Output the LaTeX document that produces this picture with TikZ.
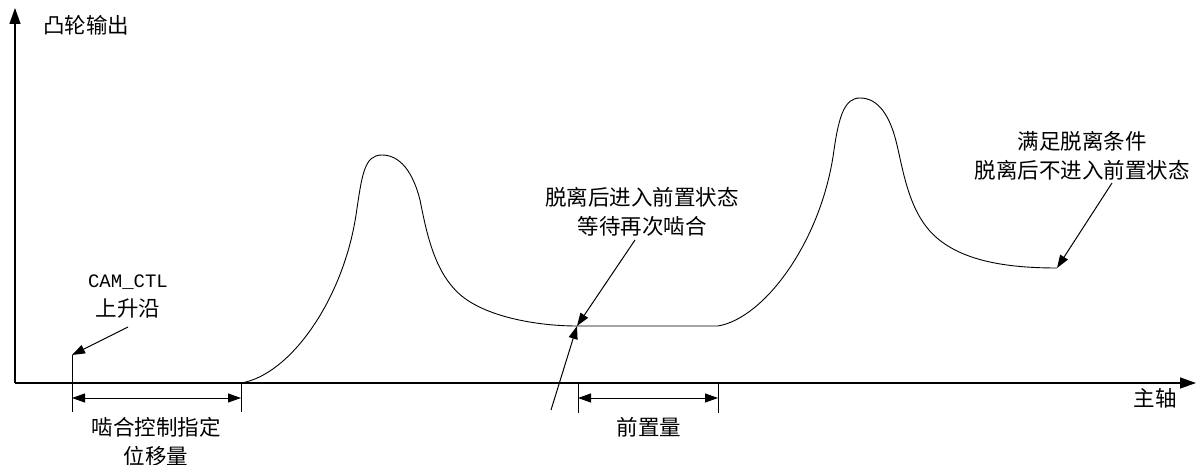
\documentclass[tikz,border=0pt]{standalone}
\usepackage{fontspec}
\setmainfont{Noto Sans CJK SC}
\newfontfamily\monof{Liberation Mono}
\usetikzlibrary{arrows.meta}
\begin{document}
\begin{tikzpicture}[x=1pt,y=-1pt,line width=1pt,
  lbl/.style={font=\fontsize{21.5}{29}\selectfont,align=center,inner sep=0pt},
  arr/.style={-{Triangle[length=13pt,width=9pt]}},
  dimarr/.style={{Triangle[length=13pt,width=9pt]}-{Triangle[length=13pt,width=9pt]}},
  ax/.style={line width=1.3pt,-{Triangle[length=16pt,width=11pt]}},
  tick/.style={line width=1pt},
  cam/.style={line width=0.9pt}]
\useasboundingbox (0,0) rectangle (1203,465);
% axes
\coordinate (O) at (15,383);
\coordinate (Ytop) at (15,8);
\coordinate (Xend) at (1196,383);
\draw[ax] (O) -- (Ytop);
\draw[ax] (O) -- (Xend);
\node[lbl] (ylab) at (86,25) {凸轮输出};
\node[lbl] (xlab) at (1155,398) {主轴};
% curve
\coordinate (c0) at (241,383);
\coordinate (c1) at (577,326);
\coordinate (c2) at (718,326);
\coordinate (c3) at (1057,268);
\draw[cam] (c0) .. controls (290,375) and (343,300) .. (356,215)
  .. controls (362,175) and (364,155) .. (382,155)
  .. controls (400,155) and (413,172) .. (420,200)
  .. controls (427,235) and (435,275) .. (463,297)
  .. controls (490,318) and (540,326) .. (c1)
  -- (c2)
  .. controls (765,318) and (822,240) .. (834,150)
  .. controls (839,115) and (845,98) .. (860,98)
  .. controls (878,98) and (890,115) .. (897,145)
  .. controls (904,175) and (910,215) .. (937,238)
  .. controls (965,262) and (1010,268) .. (c3);
% ticks
\coordinate (t1a) at (72,355); \coordinate (t1b) at (72,412);
\coordinate (t2a) at (241,383); \coordinate (t2b) at (241,412);
\coordinate (t3a) at (578,383); \coordinate (t3b) at (578,413);
\coordinate (t4a) at (718,383); \coordinate (t4b) at (718,413);
\draw[tick] (t1a) -- (t1b);
\draw[tick] (t2a) -- (t2b);
\draw[tick] (t3a) -- (t3b);
\draw[tick] (t4a) -- (t4b);
\coordinate (d1a) at (72,398); \coordinate (d1b) at (241,398);
\coordinate (d2a) at (578,398); \coordinate (d2b) at (718,398);
\draw[dimarr] (d1a) -- (d1b);
\draw[dimarr] (d2a) -- (d2b);
\node[lbl] (dimA) at (156,442) {啮合控制指定\\位移量};
\node[lbl] (dimB) at (649,427) {前置量};
% CAM_CTL
\node[lbl] (cam) at (128,297) {{\monof\fontsize{19}{29}\selectfont CAM\_CTL}\\上升沿};
\coordinate (camA) at (128,327);
\draw[arr] (camA) -- (t1a);
% middle annotation
\node[lbl] (mid) at (642,212) {脱离后进入前置状态\\等待再次啮合};
\coordinate (midA) at (635,240);
\coordinate (midB) at (551,410);
\draw[arr] (midA) -- (c1);
\draw[arr] (midB) -- (c1);
% right annotation
\node[lbl] (rt) at (1082,156) {满足脱离条件\\脱离后不进入前置状态};
\coordinate (rtA) at (1112,183);
\draw[arr] (rtA) -- (c3);
\end{tikzpicture}
\end{document}
